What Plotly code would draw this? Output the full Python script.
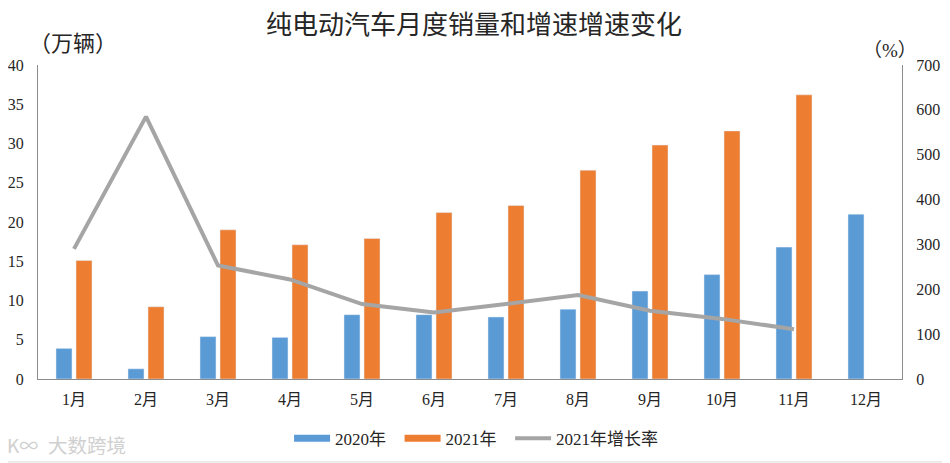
import plotly.graph_objects as go

months = ["1月","2月","3月","4月","5月","6月","7月","8月","9月","10月","11月","12月"]
sales_2020 = [3.9, 1.3, 5.4, 5.3, 8.2, 8.2, 7.9, 8.9, 11.2, 13.3, 16.8, 21.0]
sales_2021 = [15.1, 9.2, 19.0, 17.1, 17.9, 21.2, 22.1, 26.6, 29.8, 31.6, 36.2, None]
growth_2021 = [290, 585, 253, 222, 167, 148, 167, 187, 152, 134, 111, None]
left_ticks = [0,5,10,15,20,25,30,35,40]
right_ticks = [0,100,200,300,400,500,600,700]

FONT = "Liberation Serif, Noto Sans CJK SC"
INK = "#262626"
BLUE = "#5B9BD5"
ORANGE = "#ED7D31"
GREY = "#A5A5A5"
AXIS = "#8C8C8C"
PAD = "\u00a0\u00a0"

fig = go.Figure()
fig.add_bar(x=months, y=sales_2020, name="2020年", marker_color=BLUE, width=0.222, offset=-0.25, showlegend=False)
fig.add_bar(x=months, y=sales_2021, name="2021年", marker_color=ORANGE, width=0.222, offset=0.028, showlegend=False)
fig.add_scatter(x=[months[0]], y=[None], name="2020年" + PAD, mode="lines", line=dict(color=BLUE, width=7))
fig.add_scatter(x=[months[0]], y=[None], name="2021年" + PAD, mode="lines", line=dict(color=ORANGE, width=7))
fig.add_scatter(x=months, y=growth_2021, name="2021年增长率", yaxis="y2", mode="lines",
                line=dict(color=GREY, width=4))
fig.update_layout(
    width=942, height=455, margin=dict(l=30, r=48, t=57, b=84, autoexpand=False),
    paper_bgcolor="white", plot_bgcolor="white",
    font=dict(family=FONT, size=16, color=INK),
    title=dict(text="纯电动汽车月度销量和增速增速变化", x=466/942, xanchor="center", y=1-17/455, yanchor="middle",
               font=dict(size=26, color=INK)),
    barmode="overlay",
    xaxis=dict(showline=True, linecolor=AXIS, ticks="", type="category", range=[-0.5, 11.5],
               categoryorder="array", categoryarray=months, ticklabelstandoff=6),
    yaxis=dict(range=[0,40], tickvals=left_ticks, showgrid=False, showline=True, linecolor=AXIS,
               ticks="", zeroline=False, ticklabelstandoff=10),
    yaxis2=dict(range=[0,700], tickvals=right_ticks, overlaying="y", side="right", showgrid=False,
                zeroline=False, showline=True, linecolor=AXIS, ticks="", ticklabelstandoff=10),
    legend=dict(orientation="h", x=0.2906, xanchor="left", y=-0.19, yanchor="middle", font=dict(size=17),
                itemwidth=36, traceorder="normal"),
    shapes=[dict(type="line", xref="paper", yref="paper", x0=-0.04, x1=1.06, y0=-0.264, y1=-0.264,
                 line=dict(color="#D9D9D9", width=1))],
    annotations=[
        dict(text="（万辆）", xref="paper", yref="paper", x=0.0, y=1.067, xanchor="center", yanchor="middle",
             xshift=35, showarrow=False, font=dict(size=22, color=INK)),
        dict(text="（%）", xref="paper", yref="paper", x=1.0, y=1.047, xanchor="right", yanchor="middle",
             xshift=17, showarrow=False, font=dict(size=19, color=INK)),
        dict(text="大数跨境", xref="paper", yref="paper", x=0.0, y=-0.21, xanchor="left", yanchor="middle",
             xshift=8, showarrow=False, font=dict(family="Noto Sans CJK SC", size=19.5, color="#D0D0D0")),
        dict(text="K∞", xref="paper", yref="paper", x=0.0, y=-0.21, xanchor="left", yanchor="middle",
             xshift=-33, showarrow=False, font=dict(family="Noto Sans CJK SC", size=19, color="#D0D0D0")),
    ],
)
fig.write_html("out.html")
